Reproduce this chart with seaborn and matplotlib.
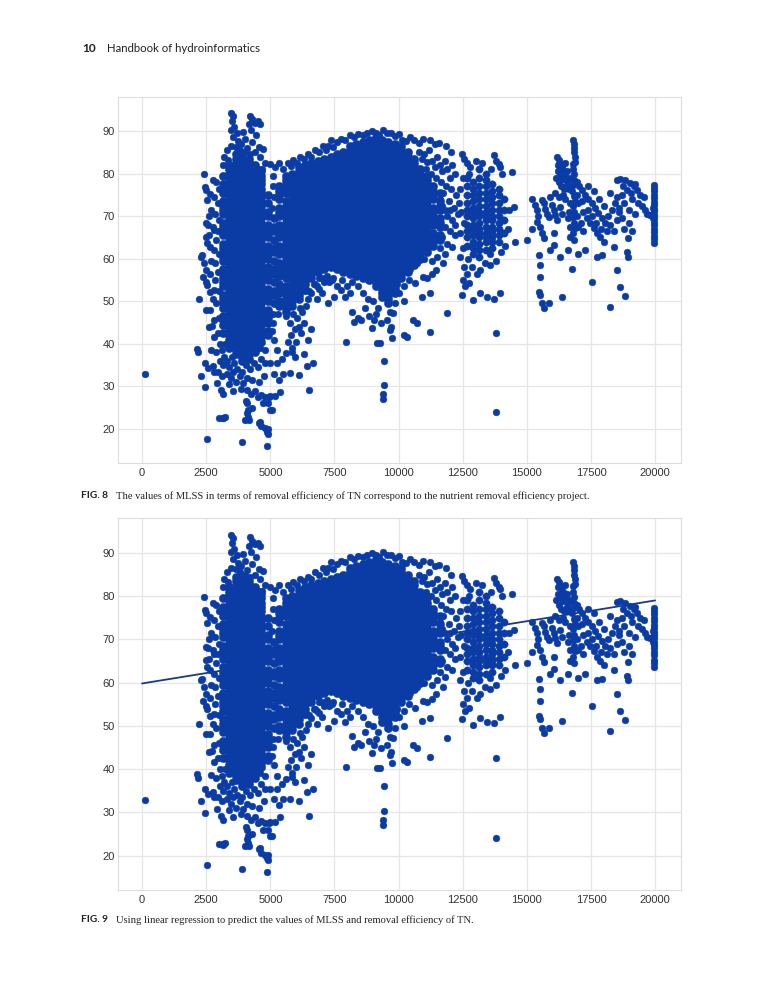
import numpy as np
import pandas as pd
import matplotlib
matplotlib.use("Agg")
import matplotlib.pyplot as plt
import seaborn as sns

# ---------------- data ----------------
x_ticks = [0, 2500, 5000, 7500, 10000, 12500, 15000, 17500, 20000]
y_ticks = [20, 30, 40, 50, 60, 70, 80, 90]

outlier_pts = [(100, 32.9)]

# dense core of the left cloud, per MLSS column
blob_a_x = [3150, 3400, 3650, 3900, 4150, 4400, 4650, 4900, 5125]
blob_a_y = [
    "42.5 44.5 45.5 46.5 48.5 49.5 50.5 51.5 53.5 54.5 55.5 56.5 57.5 59.5 60.5 61.5 62.5 63.5 65.5 66.5 67.5 68.5 70.5 71.5 72.5 73.5 75.5 76.5 77.5 79.5",
    "39 40 41 42 43 44 45 46 47 48 49 50 51 52 53 54 55 56 57 58 59 60 61 62 63 64 65 66 67 68 69 70 71 72 73 74 75 76 77 78 79 80 81 82",
    "37.5 38.5 39.5 40.5 41.5 42.5 43.5 44.5 45.5 46.5 47.5 48.5 49.5 50.5 51.5 52.5 53.5 54.5 55.5 56.5 57.5 58.5 59.5 60.5 61.5 62.5 63.5 64.5 65.5 66.5 67.5 68.5 69.5 70.5 71.5 72.5 73.5 74.5 75.5 76.5 77.5 78.5 79.5 80.5 81.5 82.5 83.5 84.5",
    "36 37 38 39 40 41 42 43 44 45 46 47 48 49 50 51 52 53 54 55 56 57 58 59 60 61 62 63 64 65 66 67 68 69 70 71 72 73 74 75 76 77 78 79 80 81 82 83 84",
    "36.5 37.5 38.5 39.5 40.5 41.5 42.5 43.5 44.5 45.5 46.5 47.5 48.5 49.5 50.5 51.5 52.5 53.5 54.5 55.5 56.5 57.5 58.5 59.5 60.5 61.5 62.5 63.5 64.5 65.5 66.5 67.5 68.5 69.5 70.5 71.5 72.5 73.5 74.5 75.5 76.5 77.5 78.5 79.5 80.5 81.5 82.5 83.5",
    "38 39 40 41 42 43 44 45 46 47 48 49 50 51 52 53 54 55 56 57 58 59 60 61 62 63 64 65 66 67 68 69 70 71 72 73 74 75 76 77 78 79 80 81 82",
    "40.5 41.5 42.5 43.5 44.5 45.5 46.5 47.5 48.5 49.5 50.5 51.5 52.5 53.5 54.5 55.5 56.5 57.5 58.5 59.5 60.5 61.5 62.5 63.5 64.5 65.5 66.5 67.5 68.5 69.5 70.5 71.5 72.5 73.5 74.5 75.5 76.5 77.5 78.5 79.5 80.5",
    "42 43 45 46 47 48 50 51 52 53 55 56 57 58 60 61 62 63 65 66 67 68 70 71 73 75",
    "49.5 51.5 52.5 54.5 56.5 57.5 59.5 61.5 62.5 64.5 66.5 67.5 69.5",
]

# dense core of the central cloud, per MLSS column
blob_b_x = [5350, 5600, 5850, 6100, 6350, 6600, 6850, 7100, 7350, 7600, 7850, 8100, 8350,
            8600, 8850, 9100, 9350, 9600, 9850, 10100, 10350, 10600, 10850, 11100, 11350, 11600]
blob_b_y = [
    "49 50 52 53 54 56 57 58 59 61 62 63 65 66 67 68 70 71 72 74 75 76 77",
    "47.5 48.5 49.5 50.5 51.5 52.5 53.5 55.5 56.5 57.5 58.5 59.5 60.5 61.5 62.5 63.5 64.5 65.5 66.5 67.5 68.5 69.5 70.5 71.5 72.5 73.5 75.5 76.5 77.5 78.5 79.5",
    "49 50 51 52 53 54 55 56 57 58 59 60 61 62 63 64 65 66 67 68 69 70 71 72 73 74 75 76 77 78 79 80",
    "50.5 51.5 52.5 53.5 54.5 55.5 56.5 57.5 58.5 59.5 60.5 61.5 62.5 63.5 64.5 65.5 66.5 67.5 68.5 69.5 70.5 71.5 72.5 73.5 74.5 75.5 76.5 77.5 78.5 79.5 80.5 81.5",
    "53 54 55 56 57 58 59 60 61 62 63 64 65 66 67 68 69 70 71 72 73 74 75 76 77 78 79 80 81 82",
    "55.5 56.5 57.5 58.5 59.5 60.5 61.5 62.5 63.5 64.5 65.5 66.5 67.5 68.5 69.5 70.5 71.5 72.5 73.5 74.5 75.5 76.5 77.5 78.5 79.5 80.5 81.5 82.5",
    "57 58 59 60 61 62 63 64 65 66 67 68 69 70 71 72 73 74 75 76 77 78 79 80 81 82 83",
    "57.5 58.5 59.5 60.5 61.5 62.5 63.5 64.5 65.5 66.5 67.5 68.5 69.5 70.5 71.5 72.5 73.5 74.5 75.5 76.5 77.5 78.5 79.5 80.5 81.5 82.5 83.5",
    "58 59 60 61 62 63 64 65 66 67 68 69 70 71 72 73 74 75 76 77 78 79 80 81 82 83 84",
    "57.5 58.5 59.5 60.5 61.5 62.5 63.5 64.5 65.5 66.5 67.5 68.5 69.5 70.5 71.5 72.5 73.5 74.5 75.5 76.5 77.5 78.5 79.5 80.5 81.5 82.5 83.5 84.5",
    "57 58 59 60 61 62 63 64 65 66 67 68 69 70 71 72 73 74 75 76 77 78 79 80 81 82 83 84 85",
    "56.5 57.5 58.5 59.5 60.5 61.5 62.5 63.5 64.5 65.5 66.5 67.5 68.5 69.5 70.5 71.5 72.5 73.5 74.5 75.5 76.5 77.5 78.5 79.5 80.5 81.5 82.5 83.5 84.5 85.5 86.5",
    "56 57 58 59 60 61 62 63 64 65 66 67 68 69 70 71 72 73 74 75 76 77 78 79 80 81 82 83 84 85 86 87",
    "55.5 56.5 57.5 58.5 59.5 60.5 61.5 62.5 63.5 64.5 65.5 66.5 67.5 68.5 69.5 70.5 71.5 72.5 73.5 74.5 75.5 76.5 77.5 78.5 79.5 80.5 81.5 82.5 83.5 84.5 85.5 86.5 87.5",
    "55 56 57 58 59 60 61 62 63 64 65 66 67 68 69 70 71 72 73 74 75 76 77 78 79 80 81 82 83 84 85 86 87 88",
    "53.5 54.5 55.5 56.5 57.5 58.5 59.5 60.5 61.5 62.5 63.5 64.5 65.5 66.5 67.5 68.5 69.5 70.5 71.5 72.5 73.5 74.5 75.5 76.5 77.5 78.5 79.5 80.5 81.5 82.5 83.5 84.5 85.5 86.5 87.5 88.5",
    "51 52 53 54 55 56 57 58 59 60 61 62 63 64 65 66 67 68 69 70 71 72 73 74 75 76 77 78 79 80 81 82 83 84 85 86 87 88",
    "49.5 50.5 51.5 52.5 53.5 54.5 55.5 56.5 57.5 58.5 59.5 60.5 61.5 62.5 63.5 64.5 65.5 66.5 67.5 68.5 69.5 70.5 71.5 72.5 73.5 74.5 75.5 76.5 77.5 78.5 79.5 80.5 81.5 82.5 83.5 84.5 85.5 86.5 87.5",
    "52 53 54 55 56 57 58 59 60 61 62 63 64 65 66 67 68 69 70 71 72 73 74 75 76 77 78 79 80 81 82 83 84 85 86 87",
    "55.5 56.5 57.5 58.5 59.5 60.5 61.5 62.5 63.5 64.5 65.5 66.5 67.5 68.5 69.5 70.5 71.5 72.5 73.5 74.5 75.5 76.5 77.5 78.5 79.5 80.5 81.5 82.5 83.5 84.5 85.5 86.5",
    "57 58 59 60 61 62 63 64 65 66 67 68 69 70 71 72 73 74 75 76 77 78 79 80 81 82 83 84 85",
    "58.5 59.5 60.5 61.5 62.5 63.5 64.5 65.5 66.5 67.5 68.5 69.5 70.5 71.5 72.5 73.5 74.5 75.5 76.5 77.5 78.5 79.5 80.5 81.5 82.5 83.5",
    "60 61 62 63 64 65 66 67 68 69 70 71 72 73 74 75 76 77 78 79 80 81",
    "61.5 62.5 63.5 64.5 65.5 66.5 67.5 68.5 69.5 70.5 71.5 72.5 73.5 74.5 75.5 76.5 77.5 78.5 79.5",
    "63 64 65 66 68 69 70 71 72 74 75 76 77",
    "64.5 65.5 67.5 68.5 69.5 71.5 72.5 73.5 75.5",
]

# cluster around 12500-14000
cluster_c_x = [12650, 12900, 13150, 13400, 13650, 13900, 14100]
cluster_c_y = [
    "63 65 66.5 68 70 71.5 73 75 77 79",
    "61 62.5 64 65.5 67 68 69.5 71 72 73.5 75 76.5 78",
    "60.5 62 63.5 65 66 67 68.5 70 71 72.5 74 75.5 77 79 81",
    "62 64 65 66 67.5 69 70 71 72.5 74 75.5 77 78.5 80",
    "62.5 64 65.5 66.5 67.5 69 70 71.5 73 74.5 76 77.5",
    "64 65.5 67 68.5 70 71.5 73 75 76.5",
    "66 69 71.5 74",
]

left_pts = [
    (2410, 79.8), (2449, 76.9), (2474, 76.1), (2526, 73.75), (2654, 75.2), (2500, 68.3), (2564, 67.9),
    (2756, 67.5), (2820, 66.7), (2500, 65.2), (2526, 63.6), (2628, 62.8), (2820, 62.0), (2346, 60.9),
    (2308, 60.5), (2397, 58.9), (2500, 57.3), (2372, 55.8), (2474, 54.6), (2538, 53.8), (2820, 52.7),
    (2628, 52.3), (2218, 50.5), (2474, 48.0), (2654, 48.0), (2820, 45.6), (2731, 44.1), (2795, 41.7),
    (2154, 38.75), (2179, 38.0), (2692, 38.6), (2436, 35.5), (2564, 34.3), (2756, 34.7), (2308, 32.5),
    (2820, 33.5), (2436, 29.8), (2910, 30.8), (3077, 29.2), (3013, 22.6), (3141, 22.6), (2538, 17.7),
    (2900, 78), (3000, 76.5), (2800, 74.5), (2950, 73), (2850, 70.5), (3000, 69), (2700, 71.5),
    (2900, 64.5), (3000, 61), (2700, 59.5), (2950, 57), (2850, 55), (3000, 52.5), (2900, 49.5),
    (3000, 46), (2950, 42.5), (3050, 40), (2900, 38), (3050, 36), (2950, 33.5), (3100, 32.5),
    (2600, 65.5), (2650, 56.5), (2750, 50.5), (2600, 44), (2850, 59), (2950, 66.5), (2750, 78.5), (2600, 70),
]

blob_a_extra = [
    (3450, 94.2), (3550, 93.5), (3500, 92.4), (3600, 91.0), (3450, 90.2), (3700, 89.6), (3550, 88.5),
    (3750, 87.6), (3850, 86.9), (3650, 86.2), (3450, 86.5), (3300, 85.5), (3200, 84), (3150, 82),
    (4000, 88.2), (3950, 89.8), (4150, 91.6), (4200, 93.6), (4300, 92.8), (4400, 92.0), (4500, 92.3),
    (4600, 91.6), (4250, 90.3), (4450, 89.0), (4300, 87.5), (4550, 86.3), (4700, 85.8), (4100, 86.0),
    (4000, 85.0), (4400, 85.0), (4600, 84.0), (4800, 82.6), (4550, 81.2), (4680, 81.2), (5000, 82.2),
    (3800, 85.6), (4200, 84.5), (3350, 83.3),
    (3100, 38.5), (3200, 37), (3300, 36), (3150, 35), (3400, 34.5), (3300, 33), (3450, 32), (3550, 33.5),
    (3600, 35.5), (3500, 37), (3700, 34), (3800, 32.5), (3650, 31), (3900, 33.5), (3950, 30.7),
    (4080, 29.1), (4250, 28.3), (4400, 29), (4500, 27.5), (4650, 28), (4800, 27.5), (4950, 27.5),
    (4900, 26), (4700, 26), (4050, 35), (4200, 34), (4350, 35.5), (4500, 34.5), (4650, 36.5),
    (4800, 35.4), (5000, 35.4), (5250, 35.4), (4300, 31.5), (4550, 31), (4750, 32.5), (4100, 32),
    (3850, 29.5), (3550, 29), (3400, 30.5), (3170, 28.3), (3150, 22.5), (3250, 22.8), (4080, 26),
    (4040, 26.5), (4130, 24.5), (4100, 23.8), (4170, 22.2), (4010, 22.1), (4140, 22.9), (4300, 24.9),
    (4600, 21.7), (4550, 21.4), (4620, 20.6), (4810, 20.2), (4870, 19.4), (4925, 20.1), (4925, 18.9),
    (4870, 16.1), (3910, 17), (5000, 24.5), (4980, 27.8), (3700, 38), (3900, 36), (4600, 39),
    (4800, 38.5), (3250, 40),
    (5100, 79.5), (5100, 77), (5150, 74.5), (5050, 72), (5100, 47), (5100, 45), (5050, 43), (5150, 41),
]

low_pts = [
    (5300, 47), (5600, 46.5), (5750, 45), (5900, 47), (6050, 46),
    (5800, 42), (5950, 43.5), (5700, 40.5), (5850, 39),
    (6100, 44), (6250, 47.5), (6400, 49), (6300, 45), (6200, 42.5), (5600, 37.8), (5830, 38.2),
    (5950, 37), (6000, 40.5), (6150, 48.4), (6600, 51.9), (6450, 50.5), (6800, 50.5), (7000, 52),
    (7240, 49.5), (7500, 51.1), (7750, 52.7), (7100, 54.5), (7400, 55), (6900, 55.5), (6700, 54),
    (6500, 52.5), (5770, 33.1), (6130, 32.7), (6410, 34.7), (6670, 35.5), (6500, 29.2), (5320, 31.6),
    (5380, 28.8), (5060, 24.5), (5200, 27.8), (5450, 36.5), (5250, 38.5), (5150, 33), (5480, 33),
    (6300, 37.5), (6450, 41), (6600, 43.5), (6350, 52.5), (6800, 53.5),
    (6750, 54), (6900, 53), (7000, 55.5), (7200, 56), (7300, 54.5), (7450, 55.5), (7600, 53.5),
    (7800, 55), (8000, 53.5), (8200, 54.5), (8400, 53.5), (8600, 52), (8800, 50.5), (8100, 52),
    (7900, 51), (8700, 48.5), (9000, 50), (9100, 47), (9200, 48.5), (9050, 45.5), (8850, 46.5),
    (7950, 40.5), (8200, 47.6), (8270, 45.2), (8400, 46), (8530, 45.6), (8970, 43.7), (9140, 40.2),
    (9420, 36), (9420, 30.4), (9400, 28.3), (9400, 27), (9320, 44.8), (9550, 45.6), (9700, 44),
    (9870, 49.5), (9650, 47.5), (9800, 47.2), (9680, 43.3), (9740, 41.3), (9290, 40.2), (10000, 52),
    (10200, 50), (10580, 45.6), (10710, 44.8), (10320, 41.7), (10200, 42), (11230, 42.9), (11880, 47.2),
    (10710, 58.9), (10970, 55.8), (11100, 55.5), (11300, 56.3), (11440, 57.3), (11750, 58.9),
    (11820, 61.2), (10650, 54.2), (10910, 51.1), (11230, 51.9), (10400, 55), (10200, 53.5),
    (10450, 57.5), (11000, 60), (11500, 60.5), (11600, 62.5), (11300, 59.5), (9950, 54), (10100, 56),
]

top_pts = [
    (5200, 81.5), (5350, 82.5), (5500, 81), (5700, 82.5), (5800, 81.7), (5900, 83.2), (6050, 82.6),
    (6150, 84), (6300, 83.5), (6450, 84.5), (6600, 84), (6750, 85.6), (6900, 85), (7050, 86.5),
    (7150, 85.5), (7250, 86.6), (7350, 87.8), (7450, 86.2), (7600, 87.5), (7750, 88.2), (7900, 88.0),
    (8110, 89), (8250, 88.6), (8400, 89.2), (8600, 89.0), (8750, 89.5), (8950, 90), (9100, 89.6),
    (9250, 89.0), (9400, 90.2), (9550, 89.5), (9700, 89.6), (9850, 88.8), (10000, 89.2), (10150, 88),
    (10300, 87.6), (10450, 88.6), (10600, 88.0), (10800, 87.2), (10970, 88.2), (11230, 87.8),
    (11400, 87.0), (11560, 87.2),
    (10800, 85), (10900, 83.5), (11000, 84.5), (11100, 82.8), (11200, 85.5), (11300, 83), (11400, 81.5),
    (11500, 84), (11600, 82), (11700, 80.5), (11800, 83), (11900, 81), (12000, 79), (12100, 82),
    (12200, 80), (11050, 81), (11250, 80), (11450, 79), (11650, 78), (11850, 77), (12050, 76.5),
    (12250, 75), (11750, 75.5), (11950, 73.5), (12150, 72), (11700, 72.5), (11900, 70), (12100, 69),
    (12300, 70.5), (11800, 67.5), (12000, 66.5), (12200, 65.5), (11700, 65), (11900, 63.5),
    (12100, 62.8), (11600, 68.8), (11800, 71.5), (11600, 74), (12000, 71.5), (12200, 68), (11850, 86.5),
    (12050, 85),
]

cluster_c_extra = [
    (12470, 84.7), (12550, 83.5), (12650, 82.5), (12800, 81.6), (12750, 80), (12500, 79), (12400, 76.5),
    (12350, 73), (12450, 71), (12550, 68.5), (12400, 66), (12500, 62.5), (12400, 60.5), (12550, 58),
    (12650, 56.5), (12500, 55), (12750, 54.2), (12600, 53.5), (12850, 58), (12700, 60), (13700, 84.3),
    (13800, 83), (13900, 82.2), (13960, 81.6), (14050, 80), (14420, 80.4), (13600, 81), (13640, 64.8),
    (13570, 58.5), (13180, 57.3), (13050, 56.5), (12470, 51.5), (12920, 50.3), (13180, 51.9),
    (13450, 51), (13700, 50.6), (13960, 52), (13810, 42.5), (13810, 24.1), (14250, 67), (14300, 71.5),
    (14150, 63), (14000, 61.5), (13800, 59.5), (13350, 59), (13550, 61), (13000, 83), (13250, 82.5),
]

right_pts = [
    (14480, 72.2), (14550, 64), (15000, 64.5), (15200, 74.1), (15300, 72.6), (15380, 71.4), (15450, 70),
    (15380, 68.7), (15500, 67.5), (15590, 73.8), (15650, 73), (15720, 71.8), (15780, 70.6), (15850, 69.8),
    (15980, 72.6), (16050, 71.4), (16110, 70.2), (16170, 69.1), (16300, 72.2), (16370, 70.6),
    (15900, 74.5), (16100, 75.5), (16250, 74.5), (15590, 66), (15650, 64.8), (16040, 66), (15910, 62),
    (16040, 63.2), (15460, 60.9), (15500, 58.5), (15520, 55.8), (15460, 52.3), (15520, 51.5),
    (15590, 49.5), (15650, 48.4), (15850, 49.5), (16370, 51.1), (16750, 57.7), (17530, 54.6),
    (18250, 48.75), (18510, 57.3), (18640, 53.4), (18830, 51.25), (18900, 61.6), (18960, 60.5),
    (17270, 62), (17730, 60.5), (17920, 60.9), (18380, 62.8), (16300, 60.5), (16600, 62), (17000, 61),
    (15200, 67),
    (16170, 83.9), (16250, 83.2), (16300, 82.3), (16370, 81.5), (16430, 80.7), (16200, 80.5),
    (16300, 79.5), (16400, 78.8), (16500, 79.5), (16250, 78), (16350, 77), (16450, 76.5), (16550, 77.5),
    (16200, 82), (16480, 82.5), (16550, 80.5), (16600, 78.5), (16150, 79), (16400, 75), (16500, 74),
    (16800, 88), (16820, 87), (16830, 86), (16840, 85), (16860, 84), (16880, 82.8), (16800, 82.3),
    (16780, 81), (16820, 79.8), (16850, 78.5), (16800, 77.3), (16760, 76), (16820, 74.8), (16870, 73.5),
    (16800, 72.3), (16850, 71), (16780, 69.8), (16830, 68.5), (16880, 67.3), (16800, 66), (16850, 64.5),
    (16700, 73), (16650, 71), (16600, 69.5), (16700, 67.5), (16950, 75), (17000, 73), (16950, 70),
    (17000, 67.5), (16700, 79), (16650, 76.5), (16950, 78), (16700, 65),
    (17050, 77), (17150, 76.2), (17270, 75), (17400, 74), (17530, 73.2), (17650, 72), (17790, 70.8),
    (17920, 69.6), (18050, 68.5), (18180, 70), (18310, 71.5), (18440, 73), (18510, 74.5), (18250, 75.5),
    (18000, 72.5), (17800, 74), (17600, 76), (17400, 77), (17200, 71), (17330, 69.5), (17460, 68.5),
    (17600, 67.2), (17730, 66), (17860, 65), (18000, 64), (18120, 66.5), (18250, 68), (17200, 66.5),
    (17100, 68.5), (17400, 71.5), (17550, 70), (17700, 68.5), (18380, 66.5), (18500, 69), (18600, 71),
    (17150, 73.5), (17900, 67),
    (18510, 78.6), (18640, 78.8), (18830, 78.5), (19030, 77.8), (19160, 77), (19290, 76.2), (18900, 76.2),
    (18700, 75), (19100, 74), (19350, 73), (19480, 72.5), (19600, 71.5), (19680, 70.6), (19810, 70.2),
    (18800, 73), (19000, 71.5), (19200, 70.5), (19400, 75), (19550, 74.5), (18600, 72), (18700, 69.5),
    (19000, 68.5), (19100, 66.5), (18800, 67), (18950, 64.8), (19200, 77.5), (18750, 77), (19050, 75.5),
    (19950, 63.6), (19950, 64.6), (19950, 65.3), (19950, 66.3), (19950, 67), (19950, 67.9), (19950, 68.6),
    (19950, 69.5), (19950, 70.2), (19950, 71.1), (19950, 71.8), (19950, 72.7), (19950, 73.4), (19950, 74.3),
    (19950, 75), (19950, 75.9), (19950, 76.6), (19950, 77.3), (19900, 70.5), (19900, 72), (19900, 69.5),
]

# fitted regression line of Fig. 9 (end points)
reg_x = [0, 20000]
reg_y = [59.8, 79.0]

header_num = "10"
header_text = "Handbook of hydroinformatics"
fig8_label = "FIG. 8"
fig8_text = "The values of MLSS in terms of removal efficiency of TN correspond to the nutrient removal efficiency project."
fig9_label = "FIG. 9"
fig9_text = "Using linear regression to predict the values of MLSS and removal efficiency of TN."

# ---------------- assemble ----------------
def columns_to_frame(col_sets):
    xs, ys = [], []
    for cols, rows in col_sets:
        for cx, row in zip(cols, rows):
            for v in row.split():
                xs.append(cx)
                ys.append(float(v))
    return pd.DataFrame({"MLSS": xs, "TN": ys})


def points_to_frame(pt_sets):
    xs, ys = [], []
    for pts in pt_sets:
        for px, py in pts:
            xs.append(px)
            ys.append(py)
    return pd.DataFrame({"MLSS": xs, "TN": ys})


core_df = columns_to_frame([(blob_a_x, blob_a_y), (blob_b_x, blob_b_y)])
dense_df = columns_to_frame([(cluster_c_x, cluster_c_y)])
loose_df = points_to_frame([outlier_pts, left_pts, blob_a_extra, low_pts, top_pts,
                            cluster_c_extra, right_pts])
reg_df = pd.DataFrame({"MLSS": reg_x, "TN": reg_y})

sns.set_theme(style="whitegrid")
plt.rcParams['font.family'] = ['Liberation Sans', 'DejaVu Sans']

W, H = 781, 1000
fig = plt.figure(figsize=(W / 100, H / 100), dpi=100)
fig.patch.set_facecolor("white")

ax1 = fig.add_axes([118 / W, 1 - 462.6 / H, 563 / W, 365.6 / H])
ax2 = fig.add_axes([118 / W, 1 - 889.7 / H, 563 / W, 371.4 / H])

dot_color = "#0b3ca6"

for ax in (ax1, ax2):
    sns.scatterplot(data=core_df, x="MLSS", y="TN", ax=ax, color=dot_color, edgecolor=dot_color,
                    linewidth=0.3, s=36, zorder=3, legend=False)
    sns.scatterplot(data=dense_df, x="MLSS", y="TN", ax=ax, color=dot_color, edgecolor=dot_color,
                    linewidth=0.3, s=28, zorder=3, legend=False)
    sns.scatterplot(data=loose_df, x="MLSS", y="TN", ax=ax, color=dot_color, edgecolor=dot_color,
                    linewidth=0.3, s=24, zorder=3, legend=False)

sns.lineplot(data=reg_df, x="MLSS", y="TN", ax=ax2, color="#1b3c7c", linewidth=1.3, zorder=2)

for ax in (ax1, ax2):
    ax.set_xlim(-940, 21010)
    ax.set_ylim(12.1, 98)
    ax.set_xticks(x_ticks)
    ax.set_yticks(y_ticks)
    ax.set_xlabel("")
    ax.set_ylabel("")
    ax.set_facecolor("white")
    ax.grid(True, color="#e6e6e6", linewidth=0.9)
    ax.set_axisbelow(True)
    for sp in ax.spines.values():
        sp.set_color("#dcdcdc")
        sp.set_linewidth(0.8)
    ax.tick_params(axis="both", length=0, labelsize=8, colors="#333333")
    ax.tick_params(axis="x", pad=4)
    ax.tick_params(axis="y", pad=2.5)

# header and captions
fig.text(82 / W, 1 - 49 / H, header_num, fontsize=8.6, fontweight="bold", family=["Lato", "DejaVu Sans"],
         va="center", ha="left", color="#222222")
fig.text(107 / W, 1 - 49 / H, header_text, fontsize=8.2, family=["Lato", "DejaVu Sans"],
         va="center", ha="left", color="#222222")

for lab, txt, yy in [(fig8_label, fig8_text, 496), (fig9_label, fig9_text, 920)]:
    fig.text(81 / W, 1 - yy / H, lab, fontsize=7.3, fontweight="bold", family=["Lato", "DejaVu Sans"],
             va="center", ha="left", color="#222222")
    fig.text(116 / W, 1 - yy / H, txt, fontsize=7.6, family=["Liberation Serif", "DejaVu Serif"],
             va="center", ha="left", color="#222222")

fig.savefig("out.png", dpi=100, facecolor="white")
